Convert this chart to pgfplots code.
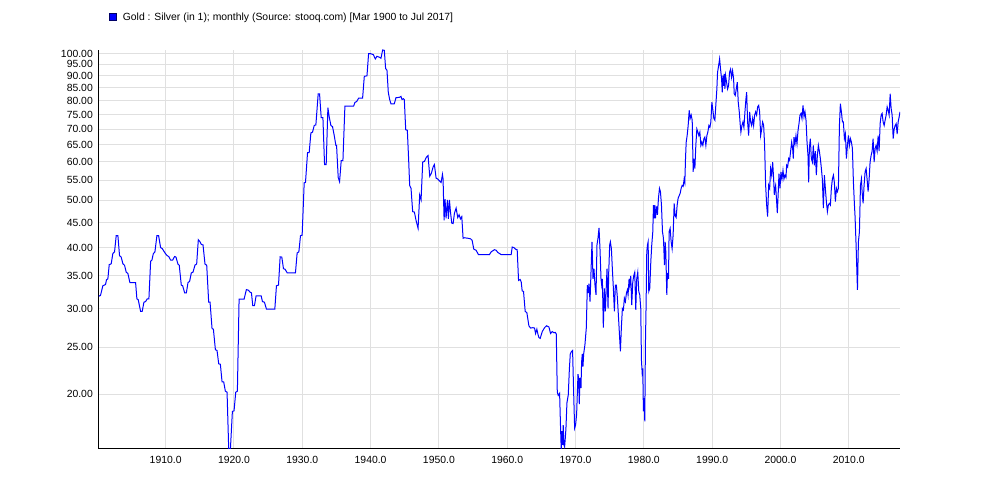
\documentclass[border=0pt]{standalone}
\usepackage{fontspec}
\setmainfont{Liberation Sans}
\usepackage{pgfplots}
\pgfplotsset{compat=1.18}
\definecolor{gridgray}{RGB}{224,224,224}
\definecolor{lineblue}{RGB}{0,0,255}
\begin{document}
\begin{tikzpicture}
\path[use as bounding box] (0,0) rectangle (1000pt,500pt);
\begin{axis}[
  at={(98.5pt,51pt)}, anchor=south west,
  scale only axis, width=801.5pt, height=399pt,
  xmin=1900.17, xmax=2017.5,
  ymode=log, ymin=15.45, ymax=101.7,
  axis lines=left, axis line style={-, black, line width=1pt},
  xtick={1910,1920,1930,1940,1950,1960,1970,1980,1990,2000,2010},
  xticklabels={1910.0,1920.0,1930.0,1940.0,1950.0,1960.0,1970.0,1980.0,1990.0,2000.0,2010.0},
  ytick={20,25,30,35,40,45,50,55,60,65,70,75,80,85,90,95,100},
  yticklabels={20.00,25.00,30.00,35.00,40.00,45.00,50.00,55.00,60.00,65.00,70.00,75.00,80.00,85.00,90.00,95.00,100.00},
  grid=major, major grid style={gridgray, line width=1pt},
  major tick length=0pt,
  tick label style={font=\fontsize{10.4}{12}\selectfont, inner sep=0pt},
  yticklabel style={xshift=-5.5pt},
  xticklabel style={yshift=-7pt},
  legend cell align=left,
  legend style={at={(0.011,1.0827)}, anchor=west, draw=none, fill=none,
    inner sep=0pt, outer sep=0pt,
    nodes={inner sep=0pt, font=\fontsize{10.4}{12}\selectfont},
    /tikz/every even column/.style={column sep=0pt}},
  legend image code/.code={
    \fill[lineblue, draw=blue!40!black, line width=0.6pt] (2pt,-3.5pt) rectangle (9pt,3.5pt);
    \path[draw=none, fill=none] (0pt,-0.1pt) rectangle (15.5pt,0.1pt);},
]
\addplot[lineblue, line width=1pt] table {
1900.22 31.8
1900.46 31.9
1900.81 33.4
1901.20 33.6
1901.34 34.35
1901.54 34.5
1901.74 36.9
1902.03 37.05
1902.27 38.9
1902.52 39.2
1902.76 42.3
1903.01 42.3
1903.25 38.5
1903.49 38.25
1903.74 37.05
1903.98 36.8
1904.23 35.6
1904.47 35.4
1904.77 33.9
1905.60 33.9
1905.79 31.4
1905.99 31.25
1906.33 29.6
1906.57 29.6
1906.82 30.9
1907.06 31.0
1907.31 31.4
1907.55 31.4
1907.80 37.5
1907.99 37.7
1908.19 38.85
1908.43 39.2
1908.72 42.3
1908.97 42.3
1909.26 40.0
1909.51 39.8
1909.85 39.1
1910.14 38.6
1910.48 38.3
1910.73 37.7
1911.02 37.7
1911.31 38.35
1911.51 38.25
1911.80 37.0
1911.99 36.8
1912.29 33.5
1912.49 33.4
1912.78 32.3
1913.03 32.3
1913.27 33.9
1913.51 34.1
1913.76 35.5
1914.00 35.6
1914.30 36.85
1914.54 37.0
1914.78 41.5
1915.03 41.1
1915.22 40.6
1915.47 40.5
1915.76 37.0
1916.01 36.8
1916.30 30.9
1916.50 30.9
1916.79 27.3
1916.99 27.2
1917.28 24.7
1917.52 24.6
1917.77 23.1
1918.01 23.05
1918.26 21.2
1918.50 21.2
1918.74 20.3
1918.99 20.2
1919.23 15.45
1919.48 15.45
1919.77 18.45
1920.01 18.5
1920.26 20.2
1920.50 20.3
1920.75 31.35
1921.48 31.35
1921.82 32.8
1922.12 32.7
1922.36 32.4
1922.56 32.3
1922.75 30.4
1923.00 30.4
1923.24 31.85
1923.98 31.85
1924.17 31.0
1924.46 30.9
1924.76 29.9
1925.98 29.9
1926.22 33.4
1926.52 33.5
1926.76 38.3
1927.00 38.25
1927.25 36.2
1927.49 36.1
1927.79 35.5
1929.00 35.5
1929.25 39.0
1929.50 39.2
1929.74 42.3
1929.98 42.4
1930.28 54.3
1930.47 54.4
1930.77 62.6
1931.01 62.6
1931.26 68.75
1931.50 69.0
1931.75 71.2
1931.99 71.4
1932.33 82.7
1932.53 82.7
1932.77 73.9
1933.02 73.9
1933.26 59.2
1933.50 59.2
1933.75 77.5
1933.94 74.2
1934.19 71.2
1934.43 70.8
1934.68 67.9
1934.92 64.8
1935.02 64.8
1935.26 55.7
1935.46 54.6
1935.70 60.3
1935.95 60.3
1936.24 78.0
1937.51 78.0
1937.71 79.4
1937.95 79.7
1938.25 81.0
1938.83 81.0
1939.08 89.8
1939.47 90.0
1939.71 100.0
1940.05 99.9
1940.40 99.5
1940.69 97.5
1940.93 98.7
1941.28 98.3
1941.52 97.8
1941.76 101.7
1942.01 101.5
1942.20 93.2
1942.40 92.4
1942.59 83.3
1942.79 80.5
1942.98 78.9
1943.47 78.9
1943.72 81.2
1944.21 81.3
1944.45 81.7
1944.60 80.5
1944.79 80.8
1944.94 80.4
1945.14 69.8
1945.38 69.6
1945.58 60.2
1945.72 53.65
1945.92 52.9
1946.16 47.4
1946.41 47.3
1946.65 45.5
1946.95 43.8
1947.19 51.3
1947.39 50.1
1947.63 59.9
1947.88 60.1
1948.17 61.3
1948.41 61.8
1948.66 56.0
1948.90 56.85
1949.15 58.5
1949.34 59.2
1949.59 55.5
1949.83 55.3
1950.08 54.8
1950.32 54.4
1950.52 56.5
1950.61 55.3
1950.76 45.5
1950.90 50.3
1951.05 45.9
1951.25 50.1
1951.39 45.8
1951.54 50.1
1951.69 47.4
1951.88 44.9
1952.08 44.8
1952.27 47.0
1952.52 48.2
1952.76 46.1
1952.96 46.7
1953.15 45.8
1953.35 46.3
1953.54 41.8
1953.74 41.9
1954.23 41.8
1954.62 41.7
1954.86 41.4
1955.11 39.7
1955.45 39.5
1955.79 38.7
1956.67 38.7
1957.40 38.7
1957.65 39.2
1958.13 39.6
1958.38 39.5
1958.62 39.1
1959.11 38.7
1959.60 38.7
1960.34 38.7
1960.58 38.7
1960.73 40.1
1960.97 40.0
1961.22 39.7
1961.46 39.6
1961.66 34.25
1961.90 34.4
1962.05 34.0
1962.19 32.6
1962.39 32.5
1962.63 29.6
1962.88 29.4
1963.17 27.65
1963.42 27.35
1963.76 27.4
1964.00 27.35
1964.15 26.65
1964.34 27.2
1964.49 26.6
1964.64 26.15
1964.83 26.05
1965.13 26.9
1965.47 27.4
1965.76 27.65
1966.10 27.5
1966.35 26.65
1966.59 26.9
1966.84 26.75
1967.03 26.8
1967.18 26.6
1967.33 20.2
1967.47 19.9
1967.67 20.1
1967.81 17.05
1967.91 15.3
1968.01 16.8
1968.11 15.75
1968.20 17.3
1968.30 15.75
1968.40 15.6
1968.50 16.25
1968.60 17.05
1968.74 19.2
1968.94 19.96
1969.09 22.4
1969.23 24.2
1969.43 24.5
1969.57 24.6
1969.72 20.3
1969.87 17.05
1970.01 17.3
1970.16 18.2
1970.36 22.0
1970.45 21.6
1970.55 19.1
1970.65 21.6
1970.80 20.6
1970.89 23.3
1970.99 24.2
1971.09 22.8
1971.19 24.2
1971.38 25.3
1971.58 27.4
1971.73 33.5
1971.87 32.25
1971.97 33.75
1972.12 31.0
1972.21 33.75
1972.41 41.1
1972.56 34.5
1972.70 36.2
1972.85 33.5
1973.00 32.0
1973.14 40.5
1973.29 41.8
1973.44 43.9
1973.58 39.8
1973.73 34.5
1973.83 33.5
1973.93 34.5
1974.07 27.4
1974.22 33.0
1974.37 29.6
1974.51 33.5
1974.61 36.2
1974.76 30.0
1974.86 35.6
1975.00 40.5
1975.10 41.1
1975.25 39.8
1975.39 36.2
1975.54 33.0
1975.69 29.6
1975.83 33.5
1975.98 33.5
1976.13 31.5
1976.32 28.3
1976.57 24.5
1976.71 27.4
1976.86 30.0
1977.01 29.8
1977.15 31.5
1977.30 31.0
1977.45 32.25
1977.59 32.75
1977.69 32.0
1977.84 34.5
1977.94 33.5
1978.08 35.0
1978.23 30.5
1978.38 34.0
1978.52 35.0
1978.67 35.6
1978.82 29.8
1978.96 34.5
1979.11 35.6
1979.26 32.5
1979.40 32.0
1979.55 30.0
1979.65 23.5
1979.75 22.2
1979.84 22.6
1979.94 18.45
1980.04 19.65
1980.14 17.6
1980.23 25.3
1980.33 30.5
1980.43 39.2
1980.53 40.5
1980.63 41.1
1980.72 32.5
1980.87 33.0
1981.02 37.4
1981.16 40.5
1981.31 43.1
1981.41 48.9
1981.50 45.9
1981.60 48.9
1981.70 45.9
1981.85 48.6
1981.99 46.7
1982.14 50.5
1982.29 52.9
1982.43 52.1
1982.58 48.9
1982.73 43.1
1982.87 41.8
1983.02 36.8
1983.12 41.1
1983.22 39.2
1983.36 32.0
1983.46 35.5
1983.61 34.5
1983.70 43.1
1983.85 43.8
1984.00 41.1
1984.14 39.8
1984.29 42.5
1984.44 49.3
1984.58 46.5
1984.73 46.1
1984.88 48.9
1985.02 50.5
1985.17 51.1
1985.32 51.7
1985.46 52.9
1985.61 53.65
1985.76 53.4
1985.90 55.3
1986.00 54.4
1986.10 60.9
1986.20 65.8
1986.34 67.9
1986.49 71.2
1986.64 76.5
1986.78 73.6
1986.93 74.8
1987.08 73.0
1987.22 57.2
1987.32 60.9
1987.47 58.1
1987.61 64.8
1987.76 70.0
1987.91 69.0
1988.05 67.9
1988.20 69.0
1988.35 64.8
1988.49 65.8
1988.64 64.8
1988.79 66.9
1988.93 67.4
1989.08 64.8
1989.23 67.9
1989.37 69.0
1989.52 71.2
1989.67 70.6
1989.81 72.4
1989.96 79.5
1990.11 76.5
1990.25 73.6
1990.40 73.0
1990.55 78.9
1990.69 84.6
1990.79 91.5
1990.94 94.3
1991.09 97.5
1991.23 92.9
1991.38 88.75
1991.48 83.3
1991.57 90.1
1991.67 85.9
1991.77 90.8
1991.87 84.6
1991.96 90.1
1992.11 87.4
1992.26 84.6
1992.40 85.9
1992.55 91.5
1992.70 92.9
1992.84 89.4
1992.99 92.2
1993.14 88.75
1993.23 82.7
1993.38 82.05
1993.53 84.6
1993.68 87.4
1993.82 79.5
1993.97 75.95
1994.12 71.2
1994.21 69.0
1994.36 71.2
1994.51 72.4
1994.65 70.6
1994.80 75.95
1994.95 80.8
1995.05 83.3
1995.19 72.4
1995.34 67.9
1995.49 75.95
1995.63 72.4
1995.78 71.2
1995.93 73.6
1996.07 71.2
1996.22 74.8
1996.37 75.95
1996.51 74.8
1996.66 77.75
1996.81 78.3
1996.95 75.95
1997.10 67.9
1997.25 70.0
1997.39 72.4
1997.54 71.2
1997.68 64.8
1997.83 53.65
1997.98 48.9
1998.12 46.3
1998.27 53.65
1998.42 52.9
1998.56 58.1
1998.71 56.3
1998.86 59.9
1999.00 55.3
1999.10 51.3
1999.20 52.9
1999.29 53.65
1999.44 49.7
1999.54 47.05
1999.68 52.1
1999.78 56.7
1999.93 52.9
2000.07 57.2
2000.22 55.3
2000.37 57.6
2000.51 55.3
2000.66 56.3
2000.81 55.7
2000.90 59.0
2001.05 58.5
2001.20 60.9
2001.34 60.4
2001.49 63.1
2001.64 65.8
2001.78 63.9
2001.88 60.9
2001.98 67.4
2002.13 65.3
2002.27 67.9
2002.42 65.3
2002.57 69.5
2002.71 71.8
2002.86 74.8
2003.01 75.4
2003.15 73.6
2003.30 78.3
2003.45 74.2
2003.59 75.95
2003.74 73.0
2003.89 65.8
2004.03 61.8
2004.13 54.4
2004.23 63.9
2004.37 66.9
2004.52 60.9
2004.67 59.9
2004.81 64.8
2004.96 59.0
2005.11 63.1
2005.25 56.3
2005.40 61.8
2005.55 64.8
2005.69 63.1
2005.84 60.9
2005.99 58.1
2006.13 55.3
2006.28 48.2
2006.43 56.3
2006.57 52.9
2006.72 49.7
2006.87 47.4
2007.01 48.9
2007.16 49.3
2007.31 48.9
2007.45 52.9
2007.60 55.3
2007.75 56.3
2007.89 54.4
2008.04 49.7
2008.19 52.9
2008.33 52.1
2008.48 52.9
2008.63 71.2
2008.77 78.9
2008.92 75.95
2009.07 72.4
2009.21 72.4
2009.36 66.9
2009.51 68.4
2009.65 60.9
2009.80 64.8
2009.95 67.9
2010.09 64.8
2010.24 66.9
2010.39 65.8
2010.53 63.9
2010.68 54.4
2010.83 48.9
2010.92 46.3
2011.07 40.5
2011.27 32.75
2011.41 41.1
2011.56 43.1
2011.71 53.65
2011.85 55.3
2011.95 52.1
2012.10 49.3
2012.24 53.65
2012.39 57.2
2012.54 58.1
2012.68 55.3
2012.83 52.1
2012.98 55.3
2013.12 59.9
2013.27 61.8
2013.42 63.1
2013.56 66.9
2013.71 59.9
2013.86 63.9
2014.00 64.8
2014.15 63.1
2014.30 67.9
2014.44 63.1
2014.59 71.8
2014.74 74.8
2014.88 75.4
2015.03 72.4
2015.18 71.2
2015.32 73.0
2015.47 74.8
2015.62 77.75
2015.76 76.5
2015.91 74.8
2016.06 82.7
2016.20 77.2
2016.35 74.8
2016.50 66.9
2016.64 70.0
2016.79 71.2
2016.94 71.8
2017.08 68.4
2017.23 72.4
2017.38 74.2
2017.50 75.95
};
\addlegendentry{Gold : Silver (in 1); monthly (Source: stooq.com) [Mar 1900 to Jul 2017]}
\end{axis}
\end{tikzpicture}
\end{document}
